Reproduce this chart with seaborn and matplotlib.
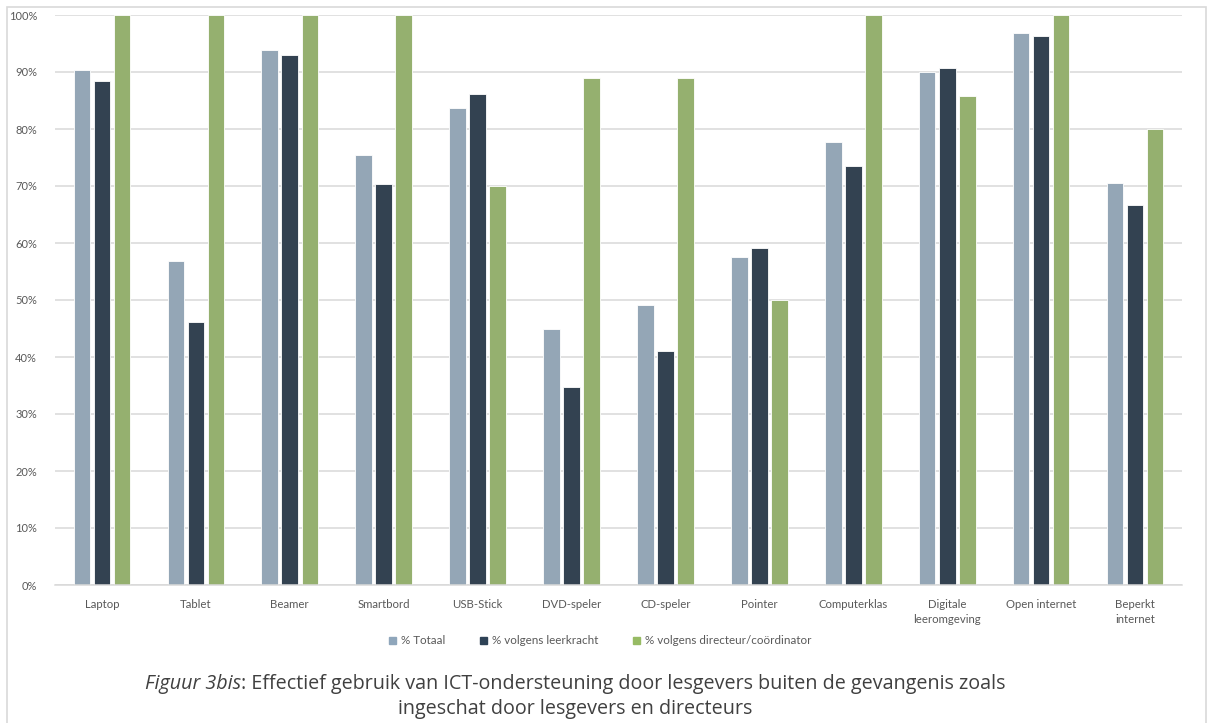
import matplotlib
matplotlib.use("Agg")
import matplotlib.pyplot as plt
import matplotlib.patches as mpatches
import seaborn as sns
import pandas as pd

categories = ["Laptop", "Tablet", "Beamer", "Smartbord", "USB-Stick", "DVD-speler",
              "CD-speler", "Pointer", "Computerklas", "Digitale\nleeromgeving",
              "Open internet", "Beperkt\ninternet"]
series_names = ["% Totaal", "% volgens leerkracht", "% volgens directeur/coördinator"]
totaal = [90.4, 56.8, 93.9, 75.4, 83.6, 44.9, 49.1, 57.6, 77.7, 90.0, 96.9, 70.6]
leerkracht = [88.5, 46.2, 93.0, 70.3, 86.2, 34.8, 41.1, 59.2, 73.5, 90.7, 96.3, 66.7]
directeur = [100, 100, 100, 100, 70, 88.9, 88.9, 50, 100, 85.8, 100, 80]
yticks = [0, 10, 20, 30, 40, 50, 60, 70, 80, 90, 100]
colors = ["#8FA6BB", "#2E4256", "#97BB64"]

rows = []
for name, vals in zip(series_names, [totaal, leerkracht, directeur]):
    for c, v in zip(categories, vals):
        rows.append({"cat": c, "serie": name, "val": v})
df = pd.DataFrame(rows)

sns.set_theme(style="white")
plt.rcParams['font.family'] = ['Lato', 'DejaVu Sans']

W, H = 1209, 723
fig = plt.figure(figsize=(W / 100, H / 100), dpi=100)
ax = fig.add_axes([55 / W, 1 - 585 / H, (1182 - 55) / W, (585 - 15) / H])

sns.barplot(data=df, x="cat", y="val", hue="serie", order=categories,
            hue_order=series_names, palette=colors, width=0.64, gap=0.17,
            edgecolor="white", linewidth=0.6, ax=ax, legend=False, errorbar=None)

ax.set_ylim(0, 100)
ax.set_xlim(-0.5, len(categories) - 0.5)
ax.set_yticks(yticks)
ax.set_yticklabels([f"{t}%" for t in yticks])
ax.yaxis.grid(True, color="#D9D9D9", linewidth=1.1)
ax.set_axisbelow(True)
for s in ["top", "right", "left"]:
    ax.spines[s].set_visible(False)
ax.spines["bottom"].set_color("#D9D9D9")
ax.spines["bottom"].set_linewidth(1.1)
ax.set_xlabel("")
ax.set_ylabel("")
ax.tick_params(axis="y", length=0, pad=13, labelsize=8, labelcolor="#595959")
ax.tick_params(axis="x", length=0, pad=10, labelsize=8.2, labelcolor="#595959")
for lbl in ax.get_xticklabels():
    lbl.set_linespacing(1.45)

handles = [mpatches.Patch(color=c, label=n) for c, n in zip(colors, series_names)]
fig.legend(handles=handles, loc="center", bbox_to_anchor=(600 / W, 1 - 641 / H), ncol=3,
           frameon=False, fontsize=8.4, handlelength=0.6, handleheight=0.6,
           handletextpad=0.4, columnspacing=3.0, labelcolor="#595959")

# outer frame
frame = mpatches.Rectangle((7 / W, -0.05), (1206 - 7) / W, 1 - 7 / H + 0.05,
                           transform=fig.transFigure, fill=False,
                           edgecolor="#D9D9D9", linewidth=1.2)
fig.add_artist(frame)

# caption
cap_color = "#404040"
cap_size = 14.2
fig.canvas.draw()
r = fig.canvas.get_renderer()
t1 = fig.text(0, 0, "Figuur 3bis", fontsize=cap_size, style="italic",
              family=["Open Sans", "DejaVu Sans"], color=cap_color)
t2 = fig.text(0, 0, ": Effectief gebruik van ICT-ondersteuning door lesgevers buiten de gevangenis zoals",
              fontsize=cap_size, family=["Open Sans", "DejaVu Sans"], color=cap_color)
w1 = t1.get_window_extent(r).width
w2 = t2.get_window_extent(r).width
cx = 575
start = cx - (w1 + w2) / 2
y1 = 1 - 684 / H
t1.set_position((start / W, y1))
t2.set_position(((start + w1) / W, y1))
t1.set_va("center")
t2.set_va("center")
fig.text(cx / W, 1 - 709 / H, "ingeschat door lesgevers en directeurs", fontsize=cap_size,
         family=["Open Sans", "DejaVu Sans"], color=cap_color, ha="center", va="center")

fig.savefig("out.png", dpi=100)
